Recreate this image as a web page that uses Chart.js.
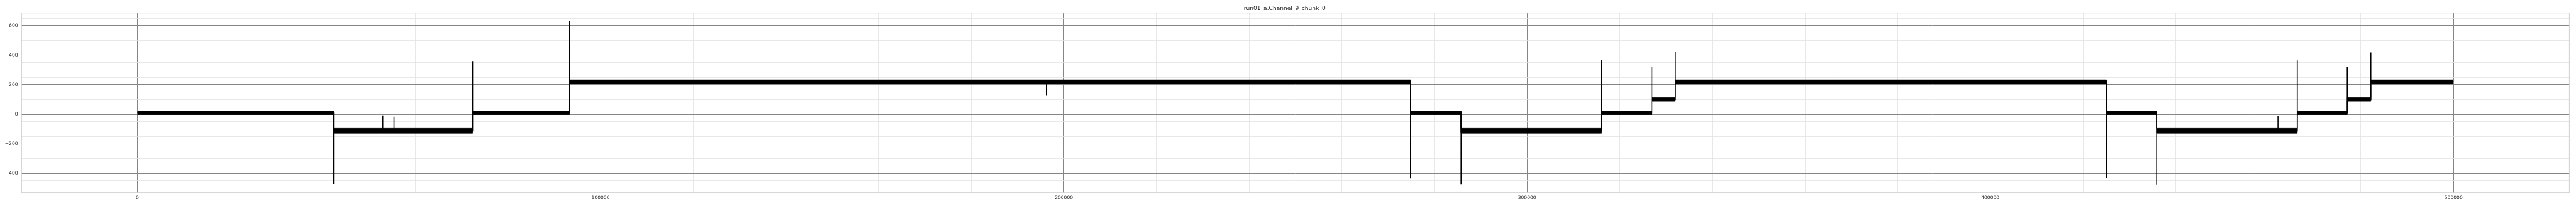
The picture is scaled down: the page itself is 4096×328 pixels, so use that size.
<!DOCTYPE html>
<html>
<head>
<meta charset="utf-8">
<script src="https://cdn.jsdelivr.net/npm/chart.js"></script>
<style>
  html, body { margin: 0; padding: 0; background: #fff; }
  canvas { display: block; }
</style>
</head>
<body>
<canvas id="myChart" width="4096" height="328"></canvas>
<script>
const title = "run01_a.Channel_9_chunk_0";

// sample index where each flat stretch starts / ends
const segmentEdges = [0, 42350, 72370, 93270, 274840, 285750, 316070, 326920, 332000, 425070, 435910, 466260, 477050, 482150, 500000];
// mean level of each stretch
const segmentLevels = [10, -112, 10, 221, 10, -112, 10, 101, 221, 10, -112, 10, 101, 221];
// noise band around each level
const bandLow = [-2, -128, -2, 207, -2, -128, -2, 89, 207, -2, -128, -2, 89, 207];
const bandHigh = [21, -95, 21, 233, 21, -95, 21, 113, 233, 21, -95, 21, 113, 233];
// one-sample spike at every step (edges 1..13)
const jumpPeaks = [-472, 360, 634, -435, -473, 369, 323, 423, -433, -475, 365, 323, 419];
// small isolated glitches
const glitchX = [52980, 55400, 196230, 462100];
const glitchY = [-7, -16, 126, -11];

const xTickLabels = [0, 100000, 200000, 300000, 400000, 500000];
const yTickLabels = [-400, -200, 0, 200, 400, 600];

function levelAt(x) {
  for (let i = 0; i < segmentLevels.length; i++) {
    if (x >= segmentEdges[i] && x < segmentEdges[i + 1]) return segmentLevels[i];
  }
  return segmentLevels[segmentLevels.length - 1];
}

// envelope of the noise band
const upper = [];
const lower = [];
segmentLevels.forEach((lvl, i) => {
  upper.push({ x: segmentEdges[i], y: bandHigh[i] }, { x: segmentEdges[i + 1], y: bandHigh[i] });
  lower.push({ x: segmentEdges[i], y: bandLow[i] }, { x: segmentEdges[i + 1], y: bandLow[i] });
});

// centre trace with spikes
const events = [];
jumpPeaks.forEach((p, k) => {
  events.push({ x: segmentEdges[k + 1], from: segmentLevels[k], peak: p, to: segmentLevels[k + 1] });
});
glitchX.forEach((gx, i) => {
  const lvl = levelAt(gx);
  events.push({ x: gx, from: lvl, peak: glitchY[i], to: lvl });
});
events.sort((a, b) => a.x - b.x);

const trace = [{ x: segmentEdges[0], y: segmentLevels[0] }];
events.forEach((e) => {
  trace.push({ x: e.x, y: e.from }, { x: e.x, y: e.peak }, { x: e.x, y: e.to });
});
trace.push({ x: segmentEdges[segmentEdges.length - 1], y: segmentLevels[segmentLevels.length - 1] });

const S = 4096 / 5400;
const font = "'DejaVu Sans', sans-serif";
const majorGrid = "#858585";
const minorGrid = "#e2e2e2";

// grid every 20000 / 50, labelled every 100000 / 200
function gridTicks(from, to, step) {
  const out = [];
  for (let v = from; v <= to; v += step) out.push({ value: v });
  return out;
}

const frame = {
  id: "frame",
  beforeDatasetsDraw(chart) {
    const { ctx, chartArea: a } = chart;
    ctx.save();
    ctx.strokeStyle = "#d0d0d0";
    ctx.lineWidth = 1;
    ctx.strokeRect(a.left, a.top, a.right - a.left, a.bottom - a.top);
    ctx.restore();
  },
};

const ctx = document.getElementById("myChart").getContext("2d");
const myChart = new Chart(ctx, {
  type: "line",
  data: {
    datasets: [
      {
        data: upper,
        borderColor: "#000",
        borderWidth: 0.8,
        pointRadius: 0,
        fill: false,
      },
      {
        data: lower,
        borderColor: "#000",
        borderWidth: 0.8,
        backgroundColor: "#000",
        pointRadius: 0,
        fill: "-1",
      },
      {
        data: trace,
        borderColor: "#000",
        borderWidth: 1.6,
        pointRadius: 0,
        fill: false,
      },
    ],
  },
  options: {
    responsive: false,
    devicePixelRatio: 1,
    animation: false,
    events: [],
    layout: { padding: { left: 0, right: 4096 - 5386 * S, top: 0, bottom: 0 } },
    plugins: {
      legend: { display: false },
      tooltip: { enabled: false },
      title: {
        display: true,
        text: title,
        color: "#262626",
        font: { family: font, size: 12 * S, weight: "normal", lineHeight: 1.2 },
        padding: { top: 8.2, bottom: 27.3 * S - 8.2 - 12 * S * 1.2 },
      },
    },
    scales: {
      x: {
        type: "linear",
        min: -25000,
        max: 525000,
        border: { display: false },
        grid: {
          drawTicks: false,
          color: (c) => (c.tick && c.tick.value % 100000 === 0 ? majorGrid : minorGrid),
          lineWidth: (c) => (c.tick && c.tick.value % 100000 === 0 ? 1 : 0.8),
        },
        afterBuildTicks: (scale) => {
          scale.ticks = gridTicks(-20000, 520000, 20000);
        },
        ticks: {
          autoSkip: false,
          maxRotation: 0,
          padding: 4,
          color: "#262626",
          font: { family: font, size: 10 * S },
          callback: (v) => (xTickLabels.includes(v) ? String(v) : ""),
        },
        afterFit: (scale) => {
          scale.height = 328 - 404.3 * S;
        },
      },
      y: {
        min: -530,
        max: 686,
        border: { display: false },
        grid: {
          drawTicks: false,
          color: (c) => (c.tick && c.tick.value % 200 === 0 ? majorGrid : minorGrid),
          lineWidth: (c) => (c.tick && c.tick.value % 200 === 0 ? 1 : 0.8),
        },
        afterBuildTicks: (scale) => {
          scale.ticks = gridTicks(-500, 650, 50);
        },
        ticks: {
          autoSkip: false,
          padding: 5.8,
          color: "#262626",
          font: { family: font, size: 10 * S },
          callback: (v) => (yTickLabels.includes(v) ? (v < 0 ? "\u2212" + Math.abs(v) : String(v)) : ""),
        },
        afterFit: (scale) => {
          scale.width = 45.3 * S;
        },
      },
    },
  },
  plugins: [frame],
});
</script>
</body>
</html>
